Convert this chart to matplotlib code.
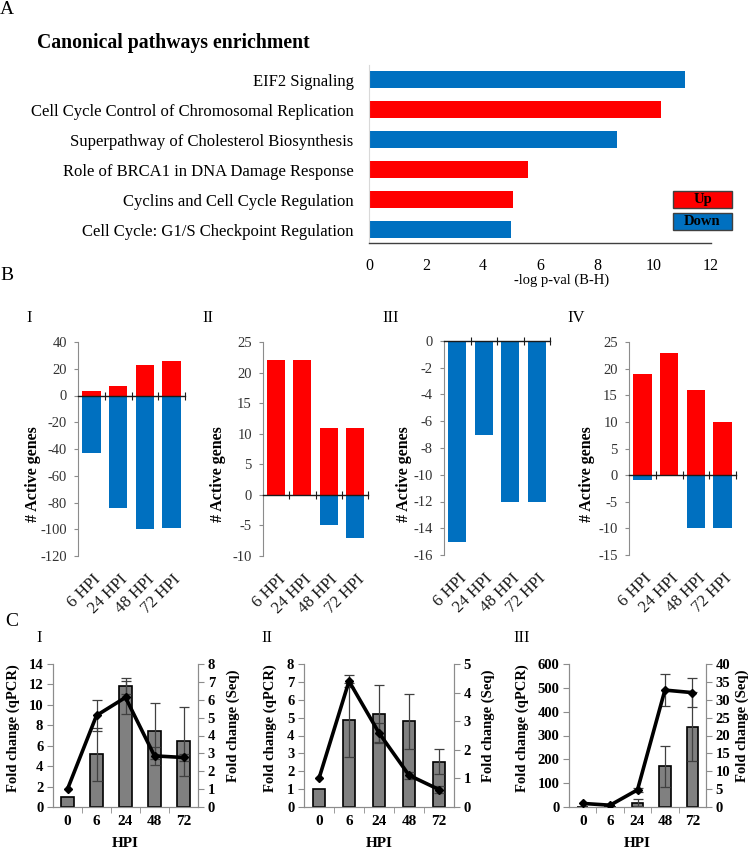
import matplotlib
matplotlib.use('Agg')
import matplotlib.pyplot as plt
from matplotlib.patches import Rectangle
import numpy as np

plt.rcParams['font.family'] = ['Liberation Serif', 'DejaVu Serif']
plt.rcParams['axes.unicode_minus'] = False

W, H = 748, 850
fig = plt.figure(figsize=(W / 100, H / 100), dpi=100)

RED = '#FF0000'
BLUE = '#0070C0'
GREY_SPINE = '#8C8C8C'

# ---------------- data ----------------
# Panel A
pathways = ['EIF2 Signaling',
            'Cell Cycle Control of Chromosomal Replication',
            'Superpathway of Cholesterol Biosynthesis',
            'Role of BRCA1 in DNA Damage Response',
            'Cyclins and Cell Cycle Regulation',
            'Cell Cycle: G1/S Checkpoint Regulation']
pathway_logp = [11.08, 10.24, 8.69, 5.59, 5.05, 4.99]
pathway_dir = ['Down', 'Up', 'Down', 'Up', 'Up', 'Down']

# Panel B
hpi_labels = ['6 HPI', '24 HPI', '48 HPI', '72 HPI']
b1_up = [3, 7, 23, 26]
b1_down = [-43, -84, -100, -99]
b2_up = [22, 22, 11, 11]
b2_down = [0, 0, -5, -7]
b3_up = [0, 0, 0, 0]
b3_down = [-15, -7, -12, -12]
b4_up = [19, 23, 16, 10]
b4_down = [-1, 0, -10, -10]

# Panel C
c_hpi = ['0', '6', '24', '48', '72']
c1_qpcr = [1.0, 5.16, 11.83, 7.45, 6.44]
c1_qpcr_err = [0, 2.6, 0.76, 2.75, 3.36]
c1_seq = [1.0, 5.12, 6.13, 2.86, 2.77]
c1_seq_err = [0, 0.86, 0.94, 0.5, 0.19]
c2_qpcr = [1.0, 4.86, 5.2, 4.79, 2.54]
c2_qpcr_err = [0, 2.09, 1.62, 1.53, 0.7]
c2_seq = [1.0, 4.40, 2.59, 1.11, 0.61]
c2_seq_err = [0, 0.2, 0.33, 0.12, 0.12]
c3_qpcr = [1.0, 0.5, 18, 171, 337]
c3_qpcr_err = [0, 0, 14, 86, 144]
c3_seq = [1.0, 0.5, 4.8, 32.7, 32.0]
c3_seq_err = [0, 0, 0.5, 4.5, 4.0]


def add_ax(l, t, r, b):
    return fig.add_axes([l / W, 1 - b / H, (r - l) / W, (b - t) / H])


def ftext(x, y, s, **kw):
    fig.text(x / W, 1 - y / H, s, **kw)


# ---------------- Panel A ----------------
ftext(7, 9, 'A', fontsize=14, ha='center', va='center')
ftext(37, 43, 'Canonical pathways enrichment', fontsize=14.2, fontweight='bold',
      ha='left', va='center')

axA = add_ax(369, 65, 711, 243)
ypos = np.arange(len(pathways))
colsA = [RED if d == 'Up' else BLUE for d in pathway_dir]
axA.barh(ypos, pathway_logp, height=0.57, color=colsA)
axA.set_ylim(5.45, -0.5)
axA.set_xlim(0, 12)
axA.set_xticks(np.arange(0, 13, 2))
axA.set_yticks(ypos)
axA.set_yticklabels(pathways, fontsize=12)
axA.tick_params(axis='y', length=0, pad=11)
axA.tick_params(axis='x', length=0, pad=11, labelsize=11.5)
for s in ['top', 'right']:
    axA.spines[s].set_visible(False)
axA.spines['left'].set_color('#D9D9D9')
axA.spines['bottom'].set_color('#404040')
axA.spines['bottom'].set_linewidth(1.0)
ftext(562, 280, '-log p-val (B-H)', fontsize=10.5, ha='center', va='center')

# legend boxes
for (lab, col, top) in [('Up', RED, 191), ('Down', BLUE, 213)]:
    fig.add_artist(Rectangle((673 / W, 1 - (top + 16.5) / H), 59 / W, 16.5 / H,
                             transform=fig.transFigure, facecolor=col,
                             edgecolor='#404040', lw=1.0))
    ftext(702.5, top + 8.5, lab, fontsize=10.5, fontweight='bold', ha='center', va='center')

# ---------------- Panel B ----------------
ftext(7, 275, 'B', fontsize=14, ha='center', va='center')

b_specs = [
    ('I', b1_up, b1_down, (78, 342, 185, 556), (-120, 40), 20, 29, 33),
    ('II', b2_up, b2_down, (263, 342, 368, 556), (-10, 25), 5, 208, 218),
    ('III', b3_up, b3_down, (444, 341, 550, 555), (-16, 0), 2, 391, 404),
    ('IV', b4_up, b4_down, (629, 342, 736, 555), (-15, 25), 5, 576, 587),
]
xb = np.arange(len(hpi_labels))
for (name, up, down, box, ylim, step, lx, ylx) in b_specs:
    ax = add_ax(*box)
    ax.bar(xb, up, width=0.69, color=RED, zorder=2)
    ax.bar(xb, down, width=0.69, color=BLUE, zorder=2)
    ax.set_xlim(-0.5, 3.5)
    ax.set_ylim(*ylim)
    ax.set_yticks(np.arange(ylim[0], ylim[1] + step / 2, step))
    ax.tick_params(axis='y', direction='out', length=3, color=GREY_SPINE,
                   labelsize=10.5, labelcolor='#333333', pad=5)
    for s in ['top', 'right']:
        ax.spines[s].set_visible(False)
    ax.spines['left'].set_color(GREY_SPINE)
    ax.spines['bottom'].set_position(('data', 0))
    ax.spines['bottom'].set_color('#1a1a1a')
    ax.spines['bottom'].set_linewidth(1.0)
    ax.spines['bottom'].set_zorder(3)
    ax.set_xticks(xb + 0.5)
    ax.set_xticklabels([])
    ax.tick_params(axis='x', direction='inout', length=6, color='#1a1a1a')
    for i, lab in enumerate(hpi_labels):
        ax.annotate(lab, xy=(i, 0), xycoords=('data', 'axes fraction'),
                    xytext=(5, -15), textcoords='offset points',
                    rotation=45, ha='right', va='center', rotation_mode='anchor',
                    fontsize=12.2, color='#1a1a1a')
    ftext(lx, 318, name, fontsize=12, ha='center', va='center')
    ftext(ylx, 474, '# Active genes', fontsize=11.5, fontweight='bold',
          rotation=90, ha='center', va='center')

# ---------------- Panel C ----------------
ftext(12, 622, 'C', fontsize=14, ha='center', va='center')

c_specs = [
    ('I', c1_qpcr, c1_qpcr_err, c1_seq, c1_seq_err, (53, 664, 198, 807),
     (0, 14, 2), (0, 8, 1), 39, 13, 233),
    ('II', c2_qpcr, c2_qpcr_err, c2_seq, c2_seq_err, (304, 664, 454, 807),
     (0, 8, 1), (0, 5, 1), 267, 270, 488),
    ('III', c3_qpcr, c3_qpcr_err, c3_seq, c3_seq_err, (569, 664, 706, 807),
     (0, 600, 100), (0, 40, 5), 522, 522, 742),
]
xc = np.arange(len(c_hpi))
for (name, q, qe, s, se, box, yl, yr, lx, ylx_l, ylx_r) in c_specs:
    ax = add_ax(*box)
    ax.bar(xc, q, width=0.42, color='#808080', edgecolor='black', linewidth=1.2, zorder=2)
    q = np.asarray(q, float); qe = np.asarray(qe, float)
    m = qe > 0
    ax.errorbar(xc[m], q[m], yerr=qe[m], fmt='none', ecolor='#404040',
                elinewidth=0.9, capsize=3.5, capthick=0.9, zorder=3)
    ax.set_xlim(-0.5, 4.5)
    ax.set_ylim(yl[0], yl[1])
    ax.set_yticks(np.arange(yl[0], yl[1] + yl[2] / 2, yl[2]))
    ax.set_xticks(xc)
    ax.set_xticklabels(c_hpi)
    ax.set_xticks(xc[:-1] + 0.5, minor=True)
    ax.tick_params(axis='x', which='major', length=0, pad=6, labelsize=11)
    ax.tick_params(axis='x', which='minor', length=4, color=GREY_SPINE, direction='out')
    ax.tick_params(axis='y', length=4, color=GREY_SPINE, direction='out',
                   labelsize=10.5, pad=3)
    for lbl in ax.get_xticklabels() + ax.get_yticklabels():
        lbl.set_fontweight('bold')
    ax.spines['top'].set_visible(False)
    for sp in ['left', 'right', 'bottom']:
        ax.spines[sp].set_color(GREY_SPINE)
    ax.set_xlabel('HPI', fontsize=11, fontweight='bold', labelpad=6)

    ax2 = ax.twinx()
    ax2.set_ylim(yr[0], yr[1])
    ax2.set_yticks(np.arange(yr[0], yr[1] + yr[2] / 2, yr[2]))
    s = np.asarray(s, float); se = np.asarray(se, float)
    m2 = se > 0
    ax2.errorbar(xc[m2], s[m2], yerr=se[m2], fmt='none', ecolor='#404040',
                 elinewidth=0.9, capsize=3.5, capthick=0.9, zorder=3)
    ax2.plot(xc, s, color='black', lw=2.6, marker='D', ms=4.5, zorder=4)
    ax2.tick_params(axis='y', length=4, color=GREY_SPINE, direction='out',
                    labelsize=10.5, pad=3)
    for lbl in ax2.get_yticklabels():
        lbl.set_fontweight('bold')
    ax2.spines['top'].set_visible(False)
    for sp in ['left', 'right', 'bottom']:
        ax2.spines[sp].set_color(GREY_SPINE)

    ftext(lx, 638, name, fontsize=12, ha='center', va='center')
    ftext(ylx_l, 728, 'Fold change (qPCR)', fontsize=10.5, fontweight='bold',
          rotation=90, ha='center', va='center')
    ftext(ylx_r, 726, 'Fold change (Seq)', fontsize=10.5, fontweight='bold',
          rotation=90, ha='center', va='center')

fig.savefig('out.png', dpi=100)
